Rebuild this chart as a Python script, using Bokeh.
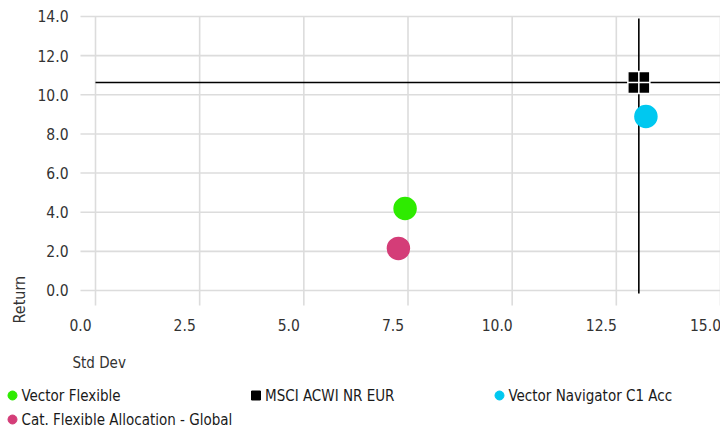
import math
from bokeh.plotting import figure
from bokeh.models import Range1d, ColumnDataSource
from bokeh.layouts import column
from bokeh.core.properties import value
from bokeh.embed import file_html
from bokeh.resources import INLINE

# ---- data ----
names = ["Vector Flexible", "MSCI ACWI NR EUR", "Vector Navigator C1 Acc", "Cat. Flexible Allocation - Global"]
std_dev = [7.43, 13.04, 13.21, 7.27]
returns = [4.19, 10.63, 8.89, 2.15]
colors = ["#2EEB00", "#000000", "#00C8F0", "#D43D78"]
markers = ["circle", "square_cross", "circle", "circle"]
bench_std = 13.04
bench_ret = 10.63
x_ticks = [0.0, 2.5, 5.0, 7.5, 10.0, 12.5, 15.0]
y_ticks = [0.0, 2.0, 4.0, 6.0, 8.0, 10.0, 12.0, 14.0]
x_title = "Std Dev"
y_title = "Return"

FONT = value("DejaVu Sans Condensed, Roboto, sans-serif")
TXT = "#333333"
FS = "15.5px"
W = 720
H_MAIN = 374
H_LEG = 53

# plot-area bounds (data units)
x_lo, x_hi = -0.36, 15.0
y_lo, y_hi = -0.766, 14.0

p = figure(width=W, height=H_MAIN, output_backend="svg", toolbar_location=None,
           x_range=Range1d(-2.28, 15.0), y_range=Range1d(-4.292, 14.8175),
           min_border=0)
p.axis.visible = False
p.grid.visible = False
p.outline_line_color = None

# grid lines
p.segment(x0=[x_lo] * len(y_ticks), y0=y_ticks, x1=[x_hi] * len(y_ticks), y1=y_ticks,
          line_color="#dcdcdc", line_width=1.6)
p.segment(x0=x_ticks, y0=[y_lo] * len(x_ticks), x1=x_ticks, y1=[y_hi] * len(x_ticks),
          line_color="#dcdcdc", line_width=1.6)

# tick labels
p.text(x=[x_lo] * len(y_ticks), y=y_ticks, text=["%.1f" % t for t in y_ticks],
       x_offset=-12, text_align="right", text_baseline="middle",
       text_font=FONT, text_font_size=FS, text_color=TXT)
p.text(x=x_ticks, y=[y_lo] * len(x_ticks), text=["%.1f" % t for t in x_ticks],
       x_offset=-15, y_offset=20, text_align="center", text_baseline="middle",
       text_font=FONT, text_font_size=FS, text_color=TXT)
p.text(x=[x_lo], y=[y_lo], text=[x_title], x_offset=-8, y_offset=58,
       text_align="left", text_baseline="middle",
       text_font=FONT, text_font_size="15px", text_color=TXT)
p.text(x=[x_lo], y=[y_lo], text=[y_title], x_offset=-61.5, y_offset=18, angle=math.pi / 2,
       text_align="left", text_baseline="middle",
       text_font=FONT, text_font_size="16px", text_color=TXT)

# benchmark crosshair
p.segment(x0=[0.0], y0=[bench_ret], x1=[x_hi], y1=[bench_ret], line_color="black", line_width=1.6)
p.segment(x0=[bench_std], y0=[-0.15], x1=[bench_std], y1=[13.9], line_color="black", line_width=1.6)

src = ColumnDataSource(dict(x=std_dev, y=returns, c=colors, m=markers))
src.data["lc"] = ["white" if m == "square_cross" else c for m, c in zip(markers, colors)]
p.scatter(x="x", y="y", marker="m", size=22, fill_color="c", line_color="lc", line_width=1.5, source=src)

# legend strip
lg = figure(width=W, height=H_LEG, output_backend="svg", toolbar_location=None,
            x_range=Range1d(0, W), y_range=Range1d(0, H_LEG), min_border=0)
lg.axis.visible = False
lg.grid.visible = False
lg.outline_line_color = None
col_w = 243.5
row_y = [32, 8]
mx, my, tx, ty = [], [], [], []
for i, n in enumerate(names):
    c = i % 3
    r = i // 3
    mx.append(12 + c * col_w)
    my.append(row_y[r])
    tx.append(21 + c * col_w)
    ty.append(row_y[r])
leg_markers = ["square" if m == "square_cross" else m for m in markers]
lg.scatter(x=mx, y=my, marker=leg_markers, size=9, fill_color=colors, line_color=colors)
lg.text(x=tx, y=ty, text=names, text_font=FONT, text_font_size="15px",
        text_color="#1a1a1a", text_baseline="middle", text_align="left")

layout = column(p, lg, spacing=0)
open("out.html", "w").write(file_html(layout, INLINE))
